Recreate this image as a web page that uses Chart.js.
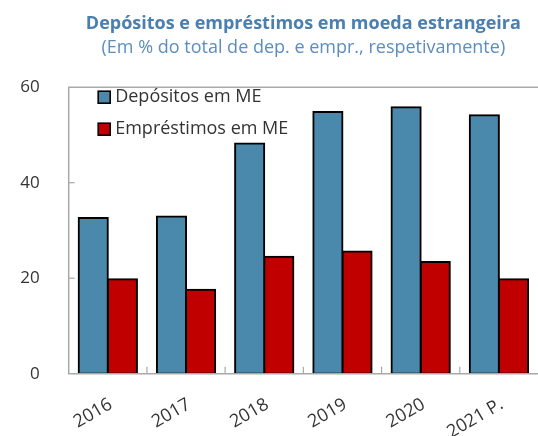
<!DOCTYPE html>
<html>
<head>
<meta charset="utf-8">
<script src="https://cdn.jsdelivr.net/npm/chart.js@4/dist/chart.umd.min.js"></script>
<style>
html,body{margin:0;padding:0;background:#fff;overflow:hidden;}
canvas{display:block;}
</style>
</head>
<body>
<canvas id="c" width="538" height="436"></canvas>
<script>
const categories = ['2016', '2017', '2018', '2019', '2020', '2021 P.'];
const depositos = [32.6, 32.9, 48.2, 54.8, 55.8, 54.1];
const emprestimos = [19.8, 17.6, 24.5, 25.6, 23.4, 19.8];
const seriesNames = ['Depósitos em ME', 'Empréstimos em ME'];
const yTicks = [0, 20, 40, 60];
const titleText = 'Depósitos e empréstimos em moeda estrangeira';
const subtitleText = '(Em % do total de dep. e empr., respetivamente)';

const FONT = "'Open Sans', 'Noto Sans', sans-serif";
const AXIS_GRAY = '#a9a9a9';
const TEXT = '#333333';

const framePlugin = {
  id: 'frame',
  afterDatasetsDraw(chart) {
    const ctx = chart.ctx;
    const a = chart.chartArea;
    const xs = chart.scales.x, ys = chart.scales.y;
    ctx.save();
    ctx.strokeStyle = AXIS_GRAY;
    ctx.lineWidth = 1.5;
    ctx.beginPath();
    ctx.moveTo(chart.width, a.top); ctx.lineTo(a.left, a.top);
    ctx.lineTo(a.left, a.bottom); ctx.lineTo(chart.width, a.bottom);
    ctx.stroke();
    ctx.lineWidth = 1.2;
    yTicks.forEach(v => {
      if (v === 0 || v === 60) return;
      const y = ys.getPixelForValue(v);
      ctx.beginPath(); ctx.moveTo(a.left, y); ctx.lineTo(a.left + 6, y); ctx.stroke();
    });
    for (let i = 0; i < categories.length - 1; i++) {
      const x = (xs.getPixelForValue(i) + xs.getPixelForValue(i + 1)) / 2;
      ctx.beginPath(); ctx.moveTo(x, a.bottom); ctx.lineTo(x, a.bottom - 7); ctx.stroke();
    }
    ctx.restore();
  }
};

const legendPlugin = {
  id: 'innerLegend',
  afterDraw(chart) {
    const ctx = chart.ctx;
    const a = chart.chartArea;
    ctx.save();
    ctx.font = '18px ' + FONT;
    ctx.textBaseline = 'middle';
    chart.data.datasets.forEach((ds, i) => {
      const cy = a.top + 10 + i * 32;
      const bx = a.left + 29.5;
      ctx.fillStyle = ds.backgroundColor;
      ctx.fillRect(bx, cy - 6, 12, 12);
      ctx.strokeStyle = '#000';
      ctx.lineWidth = 1.6;
      ctx.strokeRect(bx, cy - 6, 12, 12);
      ctx.fillStyle = TEXT;
      ctx.fillText(ds.label, bx + 17, cy);
    });
    ctx.restore();
  }
};

new Chart(document.getElementById('c'), {
  type: 'bar',
  data: {
    labels: categories,
    datasets: [
      { label: seriesNames[0], data: depositos, backgroundColor: '#4A89AC', borderColor: '#000000', borderWidth: 2, borderSkipped: false, inflateAmount: 1 },
      { label: seriesNames[1], data: emprestimos, backgroundColor: '#C00000', borderColor: '#000000', borderWidth: 2, borderSkipped: false, inflateAmount: 1 }
    ]
  },
  options: {
    responsive: false,
    animation: false,
    events: [],
    datasets: { bar: { categoryPercentage: 0.745, barPercentage: 1.0 } },
    layout: { padding: 0 },
    plugins: {
      legend: { display: false },
      tooltip: { enabled: false },
      title: {
        display: true, text: titleText, fullSize: false, color: '#4A7FAF',
        font: { family: FONT, size: 18, weight: 'bold' },
        padding: { top: 13, bottom: 2 }
      },
      subtitle: {
        display: true, text: subtitleText, fullSize: false, color: '#5B8DBF',
        font: { family: FONT, size: 18, weight: 'normal' },
        padding: { top: 0, bottom: 29 }
      }
    },
    scales: {
      x: {
        grid: { display: false },
        border: { display: false },
        ticks: { minRotation: 30, maxRotation: 30, labelOffset: 3, padding: 12, color: TEXT, font: { family: FONT, size: 18 } },
        afterFit(s) { s.height = 62.3; }
      },
      y: {
        min: 0, max: 60,
        grid: { display: false },
        border: { display: false },
        ticks: { stepSize: 20, padding: 21, color: TEXT, font: { family: FONT, size: 17 } },
        afterFit(s) { s.width = 68.7; }
      }
    }
  },
  plugins: [framePlugin, legendPlugin]
});
</script>
</body>
</html>
